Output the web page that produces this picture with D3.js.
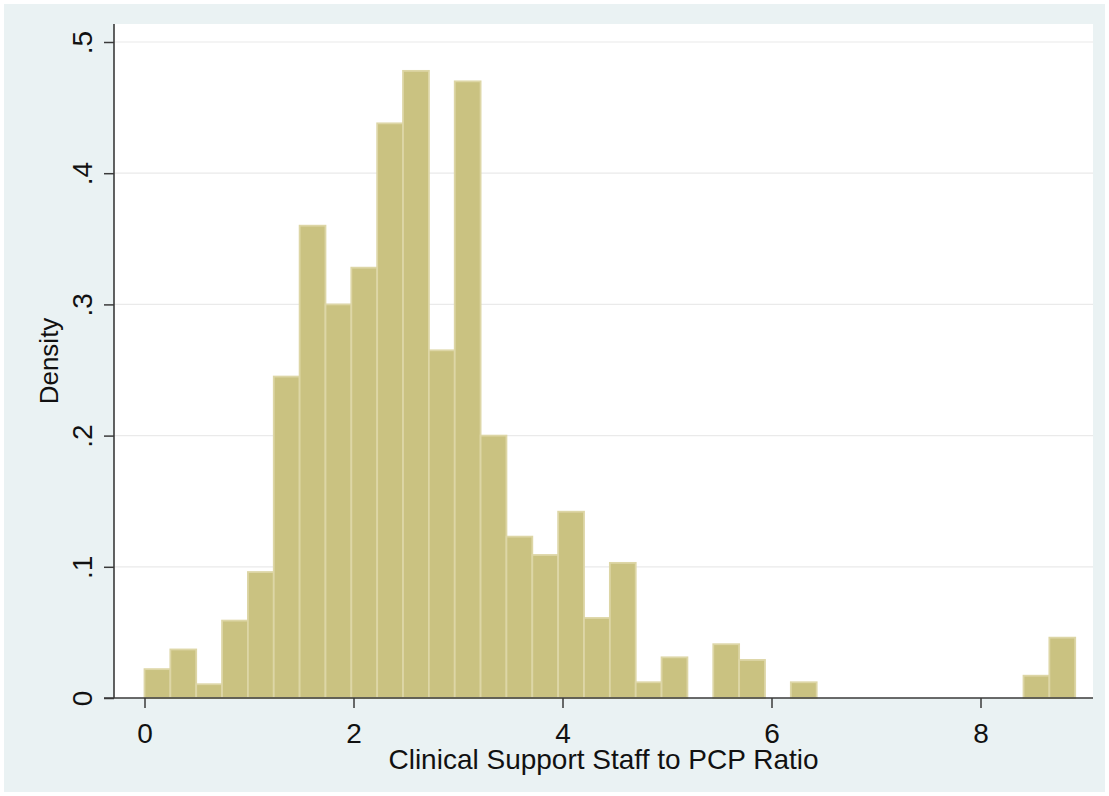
<!DOCTYPE html>
<html>
<head>
<meta charset="utf-8">
<script src="https://cdn.jsdelivr.net/npm/d3@7"></script>
<style>
  html, body { margin: 0; padding: 0; background: #fff; }
  text { font-family: "Liberation Sans", Arial, sans-serif; fill: #111; }
</style>
</head>
<body>
<svg id="chart" width="1109" height="796"></svg>
<script>
// histogram bins: start at 0, equal width, density per bin
const binStart = 0;
const binWidth = 0.2474;
const density = [
  0.022, 0.037, 0.0105, 0.059, 0.096, 0.245, 0.360, 0.300, 0.328,
  0.438, 0.478, 0.265, 0.470, 0.200, 0.123, 0.109, 0.142, 0.061,
  0.103, 0.012, 0.031, 0, 0.041, 0.029, 0, 0.012, 0, 0,
  0, 0, 0, 0, 0, 0, 0.017, 0.046
];
const xTicks = [0, 2, 4, 6, 8];
const yTicks = [0, 0.1, 0.2, 0.3, 0.4, 0.5];
const xTitle = "Clinical Support Staff to PCP Ratio";
const yTitle = "Density";

const svg = d3.select("#chart");

// plot region box
const plot = {left: 114, right: 1093, top: 24, bottom: 698};

const x = d3.scaleLinear().domain([0, 8]).range([144.5, 980.5]);
const y = d3.scaleLinear().domain([0, 0.5]).range([plot.bottom, 42]);

// outer graph region
svg.append("rect")
  .attr("x", 4).attr("y", 4)
  .attr("width", 1101).attr("height", 788)
  .attr("fill", "#eaf2f3");

svg.append("rect")
  .attr("x", plot.left).attr("y", plot.top)
  .attr("width", plot.right - plot.left)
  .attr("height", plot.bottom - plot.top)
  .attr("fill", "#ffffff");

// grid lines
svg.append("g").selectAll("line")
  .data(yTicks.filter(d => d > 0))
  .join("line")
  .attr("x1", plot.left).attr("x2", plot.right)
  .attr("y1", d => y(d)).attr("y2", d => y(d))
  .attr("stroke", "#eaeaea")
  .attr("stroke-width", 1.2);

// bars
const bins = density.map((v, i) => ({
  x0: binStart + i * binWidth,
  x1: binStart + (i + 1) * binWidth,
  v: v
})).filter(d => d.v > 0);

svg.append("g").selectAll("rect")
  .data(bins)
  .join("rect")
  .attr("x", d => x(d.x0))
  .attr("width", d => x(d.x1) - x(d.x0))
  .attr("y", d => y(d.v))
  .attr("height", d => y(0) - y(d.v))
  .attr("fill", "#cac281")
  .attr("stroke", "#ddd6a6")
  .attr("stroke-width", 1.8);

// y axis
const yAxis = svg.append("g")
  .attr("transform", `translate(${plot.left},0)`)
  .call(d3.axisLeft(y)
    .tickValues(yTicks)
    .tickSize(10)
    .tickFormat(d => d === 0 ? "0" : d3.format(".1f")(d).replace(/^0/, "")));
yAxis.select(".domain").remove();
yAxis.selectAll(".tick line").attr("stroke", "#3a3a3a").attr("stroke-width", 1.5);
yAxis.selectAll(".tick text")
  .attr("x", null).attr("dy", null)
  .attr("transform", "translate(-22,0) rotate(-90)")
  .attr("text-anchor", "middle")
  .style("font-size", "28px")
  .attr("fill", "#111");

// x axis
const xAxis = svg.append("g")
  .attr("transform", `translate(0,${plot.bottom})`)
  .call(d3.axisBottom(x).tickValues(xTicks).tickSize(10).tickFormat(d3.format("d")));
xAxis.select(".domain").remove();
xAxis.selectAll(".tick line").attr("stroke", "#3a3a3a").attr("stroke-width", 1.5);
xAxis.selectAll(".tick text")
  .attr("y", 45).attr("dy", null)
  .style("font-size", "28px")
  .attr("fill", "#111");

// axis lines
svg.append("line")
  .attr("x1", plot.left).attr("x2", plot.left)
  .attr("y1", plot.top).attr("y2", plot.bottom)
  .attr("stroke", "#3a3a3a").attr("stroke-width", 1.6);
svg.append("line")
  .attr("x1", plot.left - 10).attr("x2", plot.right)
  .attr("y1", plot.bottom).attr("y2", plot.bottom)
  .attr("stroke", "#3a3a3a").attr("stroke-width", 1.6);

// titles
svg.append("text")
  .attr("x", (plot.left + plot.right) / 2)
  .attr("y", 769)
  .attr("text-anchor", "middle")
  .style("font-size", "28px")
  .text(xTitle);

svg.append("text")
  .attr("transform", `translate(58,${(plot.top + plot.bottom) / 2}) rotate(-90)`)
  .attr("text-anchor", "middle")
  .style("font-size", "26px")
  .text(yTitle);
</script>
</body>
</html>
